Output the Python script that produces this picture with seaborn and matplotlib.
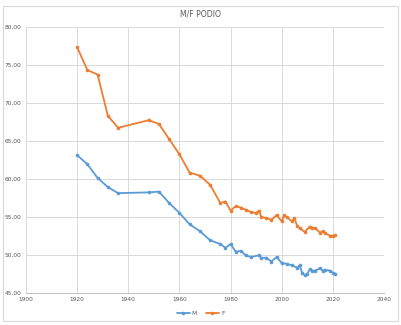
import matplotlib
matplotlib.use("Agg")
import matplotlib.pyplot as plt
import seaborn as sns
import pandas as pd
from matplotlib.ticker import FuncFormatter, MultipleLocator
from matplotlib.patches import Rectangle

years_m = [1920, 1924, 1928, 1932, 1936, 1948, 1952, 1956, 1960, 1964, 1968, 1972,
           1976, 1978, 1980, 1982, 1984, 1986, 1988, 1991, 1992, 1994, 1996, 1998,
           2000, 2002, 2004, 2006, 2007, 2008, 2009, 2010, 2011, 2012, 2013, 2015,
           2016, 2017, 2019, 2020, 2021]
values_m = [63.1, 61.9, 60.1, 58.9, 58.1, 58.2, 58.3, 56.8, 55.5, 54.0, 53.1, 51.9,
            51.4, 50.9, 51.4, 50.4, 50.5, 49.9, 49.7, 49.9, 49.6, 49.6, 49.1, 49.7,
            48.9, 48.8, 48.6, 48.3, 48.6, 47.6, 47.3, 47.5, 48.1, 47.9, 47.9, 48.2,
            47.9, 48.0, 47.9, 47.6, 47.5]

years_f = [1920, 1924, 1928, 1932, 1936, 1948, 1952, 1956, 1960, 1964, 1968, 1972,
           1976, 1978, 1980, 1982, 1984, 1986, 1988, 1990, 1991, 1992, 1994, 1996,
           1998, 2000, 2001, 2002, 2004, 2005, 2006, 2007, 2009, 2011, 2012, 2013,
           2015, 2016, 2017, 2019, 2020, 2021]
values_f = [77.3, 74.3, 73.7, 68.3, 66.7, 67.7, 67.2, 65.2, 63.2, 60.8, 60.4, 59.2,
            56.8, 57.0, 55.8, 56.4, 56.2, 55.9, 55.6, 55.5, 55.8, 55.0, 54.8, 54.6,
            55.2, 54.4, 55.2, 54.9, 54.4, 54.8, 53.8, 53.5, 53.0, 53.7, 53.5, 53.5,
            52.9, 53.1, 52.8, 52.5, 52.5, 52.6]

series_names = ["M", "F"]
title = "M/F PODIO"

df = pd.concat([
    pd.DataFrame({"year": years_m, "value": values_m, "serie": series_names[0]}),
    pd.DataFrame({"year": years_f, "value": values_f, "serie": series_names[1]}),
])

sns.set_theme(style="white")
plt.rcParams['font.family'] = ['DejaVu Sans']

fig = plt.figure(figsize=(4.01, 3.25), dpi=100)
fig.patch.set_facecolor("white")
fig.patches.append(Rectangle((0.008, 0.012), 0.985, 0.97, transform=fig.transFigure,
                             fill=False, edgecolor="#d9d9d9", linewidth=0.8))
ax = fig.add_axes([0.0648, 0.0994, 0.8928, 0.8184])

palette = {"M": "#5B9BD5", "F": "#ED7D31"}
sns.lineplot(data=df, x="year", y="value", hue="serie", palette=palette,
             marker="o", markersize=2.6, markeredgewidth=0, linewidth=1.3,
             ax=ax, legend=False, sort=False)

ax.set_xlim(1900, 2040)
ax.set_ylim(45, 80)
ax.xaxis.set_major_locator(MultipleLocator(20))
ax.yaxis.set_major_locator(MultipleLocator(5))
ax.yaxis.set_major_formatter(FuncFormatter(lambda v, p: f"{v:.2f}".replace(".", ",")))
ax.grid(True, color="#d9d9d9", linewidth=0.7)
ax.set_axisbelow(True)
for s in ["top", "right", "left"]:
    ax.spines[s].set_visible(False)
ax.spines["bottom"].set_color("#bfbfbf")
ax.spines["bottom"].set_linewidth(0.7)
ax.tick_params(axis="both", labelsize=4.2, colors="#595959", length=0, pad=3)
ax.set_xlabel("")
ax.set_ylabel("")

fig.text(0.5, 0.958, title, ha="center", va="center", fontsize=5.6, color="#595959")

from matplotlib.lines import Line2D
handles = [Line2D([], [], color=palette[n], marker="o", markersize=2.6,
                  markeredgewidth=0, linewidth=1.3) for n in series_names]
fig.legend(handles, series_names, loc="center", bbox_to_anchor=(0.5, 0.035), ncol=2,
           frameon=False, fontsize=4.2, labelcolor="#595959", handlelength=2.2,
           columnspacing=1.5, handletextpad=0.4)

fig.savefig("out.png", dpi=100, facecolor="white")
